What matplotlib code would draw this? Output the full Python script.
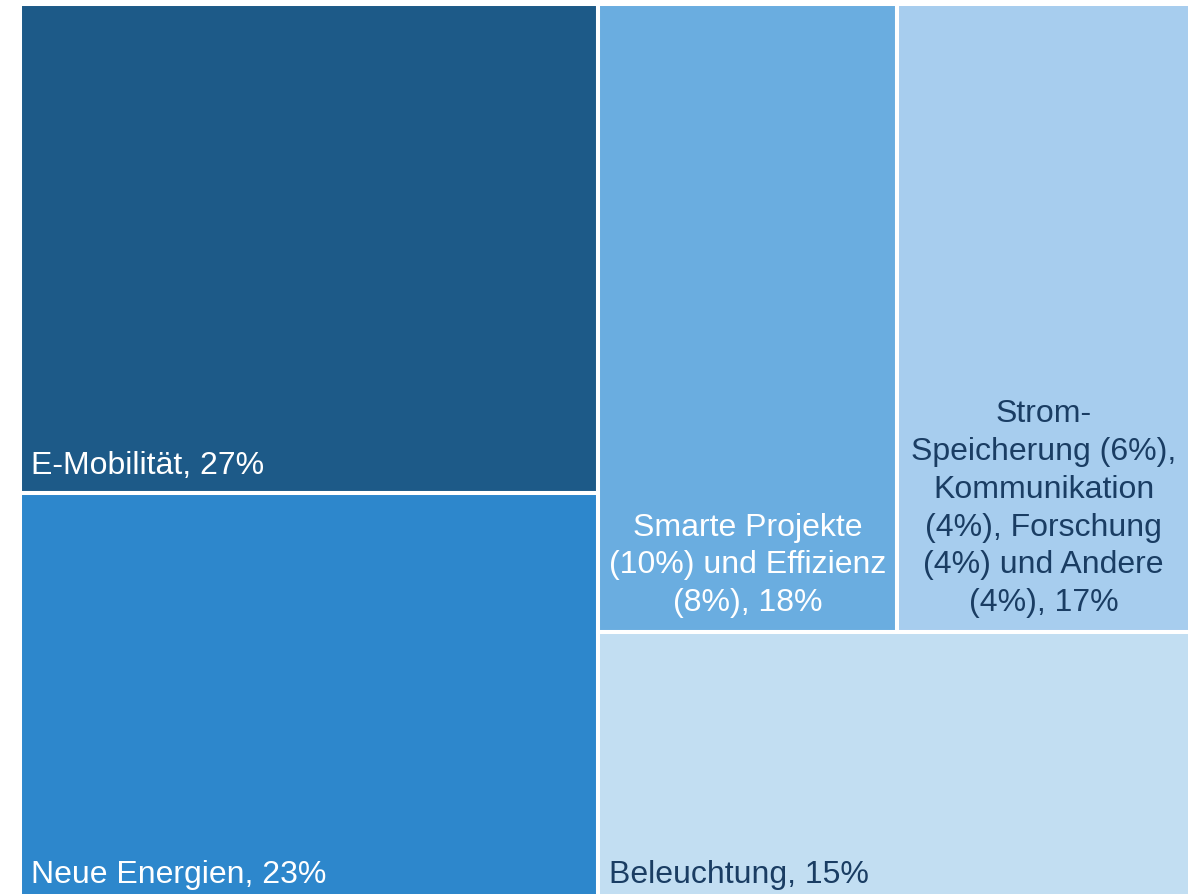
import matplotlib.pyplot as plt
from matplotlib.patches import Rectangle

plt.rcParams['font.family'] = ['Liberation Sans', 'DejaVu Sans']

# shares (estimated from the tile areas, labels show the rounded numbers)
labels = [
    'E-Mobilität, 27%',
    'Neue Energien, 23%',
    'Smarte Projekte\n(10%) und Effizienz\n(8%), 18%',
    'Strom-\nSpeicherung (6%),\nKommunikation\n(4%), Forschung\n(4%) und Andere\n(4%), 17%',
    'Beleuchtung, 15%',
]
shares = [26.9, 22.5, 17.9, 17.5, 15.2]
colors = ['#1d5a88', '#2d87cc', '#6aade0', '#a7cdee', '#c2def2']
text_colors = ['white', 'white', 'white', '#1a3d63', '#1a3d63']
placement = ['left', 'left', 'center', 'center', 'left']

W, H = 100.0, 100.0
total = sum(shares)

# left column: first two tiles stacked
left_w = W * (shares[0] + shares[1]) / total
h0 = H * shares[0] / (shares[0] + shares[1])
rects = [
    (0, H - h0, left_w, h0),
    (0, 0, left_w, H - h0),
]
# right part: two tiles side by side above one wide tile
right_w = W - left_w
top_share = shares[2] + shares[3]
top_h = H * top_share / (top_share + shares[4])
w2 = right_w * shares[2] / top_share
rects.append((left_w, H - top_h, w2, top_h))
rects.append((left_w + w2, H - top_h, right_w - w2, top_h))
rects.append((left_w, 0, right_w, H - top_h))

fig = plt.figure(figsize=(11.93, 8.94), dpi=100)
# axes slightly larger than the visible tiles (outer white edges), bottom runs off the figure
ax = fig.add_axes([20 / 1193, -8 / 894, 1170 / 1193, 898 / 894])
ax.set_xlim(0, W)
ax.set_ylim(0, H)
ax.axis('off')

for (x, y, w, h), c, lab, tc, pl in zip(rects, colors, labels, text_colors, placement):
    ax.add_patch(Rectangle((x, y), w, h, facecolor=c, edgecolor='white', linewidth=2.9))
    if pl == 'left':
        ax.annotate(lab, (x, y), xytext=(11, 12), textcoords='offset pixels',
                    ha='left', va='bottom', fontsize=23, color=tc)
    else:
        ax.annotate(lab, (x + w / 2, y), xytext=(0, 14), textcoords='offset pixels',
                    ha='center', va='bottom', fontsize=23, color=tc,
                    multialignment='center', linespacing=1.34)

fig.savefig('out.png', dpi=100)
